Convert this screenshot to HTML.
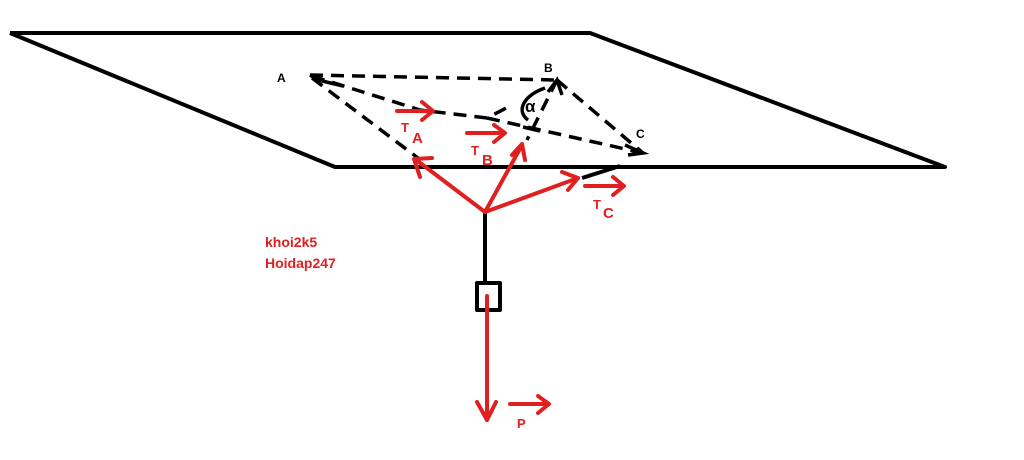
<!DOCTYPE html>
<html><head><style>html,body{margin:0;padding:0;background:#fff}svg{display:block}</style></head><body>
<svg width="1024" height="460" viewBox="0 0 1024 460" xmlns="http://www.w3.org/2000/svg" font-family="Liberation Sans, sans-serif" font-weight="bold">
<g fill="none" stroke="#000" stroke-width="4" stroke-linejoin="round">
<polyline points="10,33 590,33 945,167 335,167 10,33"/>
<line x1="485" y1="212" x2="485" y2="282" stroke-width="4"/>
<rect x="477" y="283" width="23" height="27" stroke-width="4"/>
<line x1="582" y1="178" x2="620" y2="166"/>
</g>
<g fill="none" stroke="#000" stroke-width="3.5" stroke-dasharray="13,8">
<line x1="310" y1="75" x2="557" y2="80"/>
<polyline points="312,76 420,110 487,118 510,106"/>
<line x1="487" y1="118" x2="643" y2="153"/>
<line x1="312" y1="78" x2="418" y2="158"/>
<line x1="557" y1="80" x2="643" y2="153"/>
<line x1="557" y1="80" x2="527" y2="140"/>
</g>
<g fill="none" stroke="#000" stroke-width="3.5">
<polyline points="310,75 318,80 343,86"/>
<polyline points="628,155 643,153 625,145"/>
<polyline points="548,92 557,80 562,95"/>
<path d="M545,88 C525,95 515,110 528,120"/>
<line x1="523" y1="127" x2="540" y2="131"/>
</g>
<text x="525" y="112" font-size="17" font-weight="bold">α</text>
<g font-size="12" fill="#000"><text x="277" y="82">A</text><text x="544" y="72">B</text><text x="636" y="138">C</text></g>
<g fill="none" stroke="#e02020" stroke-width="4" stroke-linecap="round" stroke-linejoin="round">
<line x1="485" y1="212" x2="415" y2="159"/><polyline points="420,177 414,159 432,158"/>
<line x1="485" y1="212" x2="522" y2="145"/><polyline points="512,155 522,144 525,160"/>
<line x1="485" y1="212" x2="578" y2="178"/><polyline points="562,172 578,178 568,190"/>
<line x1="487" y1="296" x2="487" y2="420"/><polyline points="477,402 487,420 496,402"/>
<line x1="397" y1="111" x2="432" y2="111"/><polyline points="422,102 433,111 422,120"/>
<line x1="467" y1="133" x2="504" y2="133"/><polyline points="494,125 505,133 494,142"/>
<line x1="585" y1="186" x2="623" y2="186"/><polyline points="613,177 624,186 613,195"/>
<line x1="510" y1="404" x2="548" y2="404"/><polyline points="538,396 549,404 538,413"/>
</g>
<g fill="#e02020">
<text x="401" y="132" font-size="13">T</text><text x="412" y="143" font-size="15">A</text>
<text x="471" y="155" font-size="13">T</text><text x="482" y="165" font-size="15">B</text>
<text x="593" y="209" font-size="13">T</text><text x="603" y="218" font-size="15">C</text>
<text x="517" y="428" font-size="13">P</text>
<text x="265" y="247" font-size="14">khoi2k5</text>
<text x="265" y="268" font-size="14">Hoidap247</text>
</g>
</svg>
</body></html>
